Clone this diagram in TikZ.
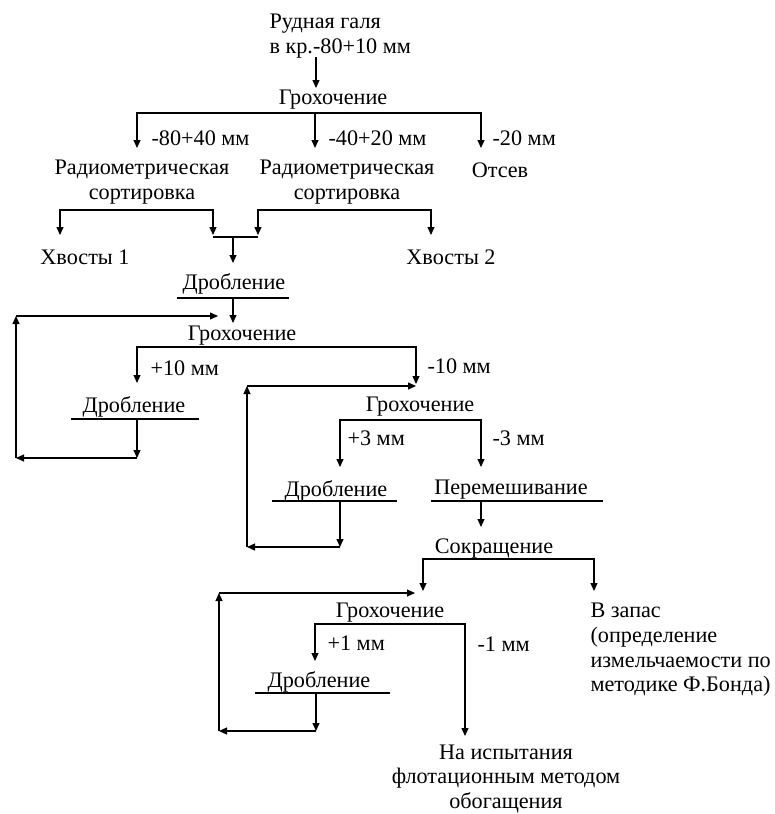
\documentclass[tikz,border=0pt]{standalone}
\usepackage{fontspec}
\setmainfont{Liberation Serif}
\usetikzlibrary{arrows.meta}

\newcommand\fsz{\fontsize{22.2}{24.7}\selectfont}

\begin{document}
\begin{tikzpicture}[x=1pt,y=-1pt,line width=1.1pt,
    txt/.style={inner sep=0pt, font=\fsz, align=center},
    arr/.style={-{Triangle[length=8pt,width=7pt]}}]
    \useasboundingbox (0,0) rectangle (774,814);

    % Stage 1: screening of the ore
    \node[txt, align=left, anchor=west] (src) at (269,36) {Рудная галя\\в кр.-80+10 мм};
    \node[txt] (gr1) at (333,100) {Грохочение};
    \node[txt, anchor=west] (sz1) at (151,138) {-80+40 мм};
    \node[txt, anchor=west] (sz2) at (328,138) {-40+20 мм};
    \node[txt, anchor=west] (sz3) at (492,138) {-20 мм};
    \node[txt] (rs1) at (142,182) {Радиометрическая\\сортировка};
    \node[txt] (rs2) at (347,182) {Радиометрическая\\сортировка};
    \node[txt] (ots) at (500,170) {Отсев};
    \node[txt] (xv1) at (85,257) {Хвосты 1};
    \node[txt] (xv2) at (451,257) {Хвосты 2};
    \node[txt] (dr1) at (234,284) {Дробление};

    \coordinate (a0) at (316,57);   \coordinate (a0t) at (316,88);
    \coordinate (g1) at (315,113);
    \coordinate (t1) at (137,148);  \coordinate (t2) at (315,148);
    \coordinate (t3) at (481,148);
    \coordinate (b1) at (142,210);  \coordinate (b2) at (347,210);
    \coordinate (t4) at (60,235);   \coordinate (t5) at (213,235);
    \coordinate (t6) at (258,235);  \coordinate (t7) at (431,235);
    \coordinate (j1) at (213,237);  \coordinate (j2) at (258,237);
    \coordinate (j0) at (233,237);  \coordinate (t8) at (233,263);

    \draw[arr] (a0) -- (a0t);
    \draw[arr] (g1) -| (t1);
    \draw[arr] (g1) -- (t2);
    \draw[arr] (g1) -| (t3);
    \draw[arr] (b1) -| (t4);
    \draw[arr] (b1) -| (t5);
    \draw[arr] (b2) -| (t6);
    \draw[arr] (b2) -| (t7);
    \draw (j1) -- (j2);
    \draw[arr] (j0) -- (t8);

    % Stage 2: screening at 10 mm
    \node[txt] (gr2) at (242,336) {Грохочение};
    \node[txt, anchor=west] (sz4) at (150,368) {+10 мм};
    \node[txt, anchor=west] (sz5) at (427,366) {-10 мм};
    \node[txt] (dr2) at (134,407) {Дробление};

    \coordinate (u1l) at (177,298); \coordinate (u1r) at (289,298);
    \coordinate (u1) at (233,298);  \coordinate (t9) at (233,323);
    \coordinate (g2) at (242,347);
    \coordinate (t10) at (137,383); \coordinate (t11) at (416,384);
    \coordinate (u2l) at (71,419);  \coordinate (u2r) at (199,419);
    \coordinate (u2) at (137,419);  \coordinate (c1) at (137,458);
    \coordinate (c2) at (16,458);   \coordinate (c3) at (16,316);
    \coordinate (c4) at (218,316);

    \draw (u1l) -- (u1r);
    \draw[arr] (u1) -- (t9);
    \draw[arr] (g2) -| (t10);
    \draw[arr] (g2) -| (t11);
    \draw (u2l) -- (u2r);
    \draw[arr] (u2) -- (c1);
    \draw[arr] (c1) -- (c2);
    \draw[arr] (c2) -- (c3);
    \draw[arr] (c3) -- (c4);

    % Stage 3: screening at 3 mm
    \node[txt] (gr3) at (420,407) {Грохочение};
    \node[txt, anchor=west] (sz6) at (347,438) {+3 мм};
    \node[txt, anchor=west] (sz7) at (492,438) {-3 мм};
    \node[txt] (dr3) at (336,491) {Дробление};
    \node[txt] (per) at (511,490) {Перемешивание};
    \node[txt] (sok) at (494,549) {Сокращение};

    \coordinate (g3) at (420,420);
    \coordinate (t12) at (340,467); \coordinate (t13) at (481,467);
    \coordinate (u3l) at (272,501); \coordinate (u3r) at (397,501);
    \coordinate (u3) at (340,501);  \coordinate (c5) at (340,547);
    \coordinate (c6) at (247,547);  \coordinate (c7) at (247,386);
    \coordinate (c8) at (416,386);
    \coordinate (u4l) at (431,501); \coordinate (u4r) at (603,501);
    \coordinate (u4) at (481,501);  \coordinate (t14) at (481,527);

    \draw[arr] (g3) -| (t12);
    \draw[arr] (g3) -| (t13);
    \draw (u3l) -- (u3r);
    \draw[arr] (u3) -- (c5);
    \draw[arr] (c5) -- (c6);
    \draw[arr] (c6) -- (c7);
    \draw[arr] (c7) -- (c8);
    \draw (u4l) -- (u4r);
    \draw[arr] (u4) -- (t14);

    % Stage 4: splitting and screening at 1 mm
    \node[txt] (gr4) at (390,613) {Грохочение};
    \node[txt, anchor=west] (sz8) at (327,643) {+1 мм};
    \node[txt, anchor=west] (sz9) at (477,644) {-1 мм};
    \node[txt] (dr4) at (319,682) {Дробление};
    \node[txt, align=left, anchor=west] (zap) at (590,650)
        {В запас\\(определение\\измельчаемости по\\методике Ф.Бонда)};
    \node[txt] (isp) at (506,779) {На испытания\\флотационным методом\\обогащения};

    \coordinate (g4) at (494,559);
    \coordinate (t15) at (423,591); \coordinate (t16) at (594,591);
    \coordinate (g5) at (390,624);
    \coordinate (t17) at (315,661); \coordinate (t18) at (465,736);
    \coordinate (u5l) at (255,693); \coordinate (u5r) at (390,693);
    \coordinate (u5) at (316,693);  \coordinate (c9) at (316,731);
    \coordinate (c10) at (219,731); \coordinate (c11) at (219,593);
    \coordinate (c12) at (415,593);

    \draw[arr] (g4) -| (t15);
    \draw[arr] (g4) -| (t16);
    \draw[arr] (g5) -| (t17);
    \draw[arr] (g5) -| (t18);
    \draw (u5l) -- (u5r);
    \draw[arr] (u5) -- (c9);
    \draw[arr] (c9) -- (c10);
    \draw[arr] (c10) -- (c11);
    \draw[arr] (c11) -- (c12);
\end{tikzpicture}
\end{document}
